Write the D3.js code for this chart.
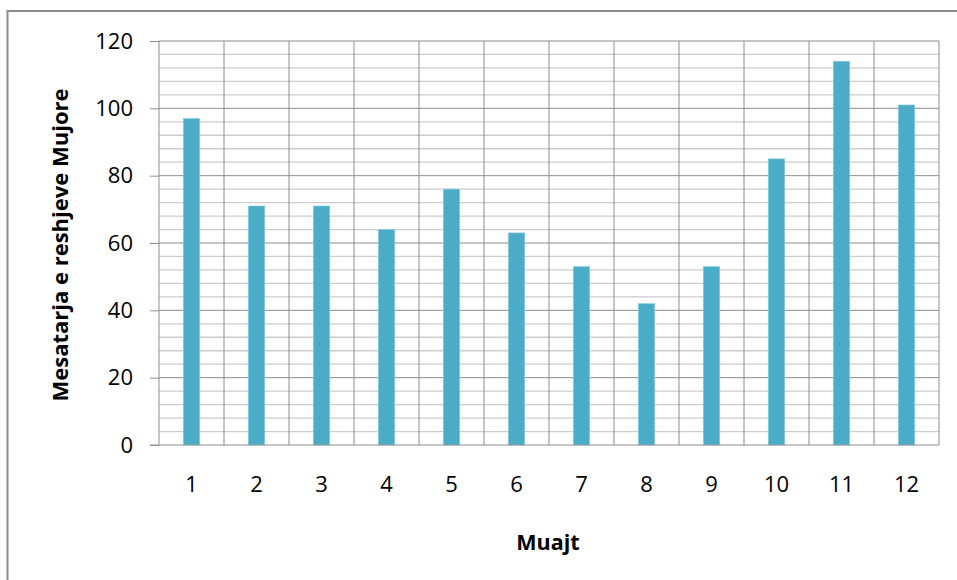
<!DOCTYPE html>
<html>
<head>
<meta charset="utf-8">
<script src="https://cdn.jsdelivr.net/npm/d3@7"></script>
<style>
  html, body { margin: 0; padding: 0; background: #fff; }
  svg { display: block; }
  text { font-family: "Open Sans", "Noto Sans", sans-serif; fill: #000; }
</style>
</head>
<body>
<svg id="chart" width="957" height="580"></svg>
<script>
// Monthly average precipitation
const months = ["1", "2", "3", "4", "5", "6", "7", "8", "9", "10", "11", "12"];
const values = [97, 71, 71, 64, 76, 63, 53, 42, 53, 85, 114, 101];
const yTicks = [0, 20, 40, 60, 80, 100, 120];
const yMinorStep = 4;

const svg = d3.select("#chart");
const plot = { left: 159, right: 939, top: 41, bottom: 445 };

// outer frame
svg.append("rect")
  .attr("x", 7.5).attr("y", 11)
  .attr("width", 1000).attr("height", 1000)
  .attr("fill", "none").attr("stroke", "#8c8c8c").attr("stroke-width", 2);

const x = d3.scaleBand().domain(months).range([plot.left, plot.right]).paddingInner(0).paddingOuter(0);
const y = d3.scaleLinear().domain([0, 120]).range([plot.bottom, plot.top]);

// minor horizontal grid
const minor = d3.range(0, 121, yMinorStep).filter(v => v % 20 !== 0);
svg.append("g").selectAll("line").data(minor).join("line")
  .attr("x1", plot.left).attr("x2", plot.right)
  .attr("y1", d => y(d)).attr("y2", d => y(d))
  .attr("stroke", "#cccccc").attr("stroke-width", 1.3);

// vertical category grid
svg.append("g").selectAll("line").data(months.slice(1).map(m => x(m)).concat([plot.right])).join("line")
  .attr("x1", d => d).attr("x2", d => d)
  .attr("y1", plot.top).attr("y2", plot.bottom)
  .attr("stroke", "#8c8c8c").attr("stroke-width", 1);

// major horizontal grid
svg.append("g").selectAll("line").data(yTicks.filter(v => v > 0)).join("line")
  .attr("x1", plot.left).attr("x2", plot.right)
  .attr("y1", d => y(d)).attr("y2", d => y(d))
  .attr("stroke", "#8c8c8c").attr("stroke-width", 1);

// bars
const barW = 16.5;
svg.append("g").selectAll("rect").data(values).join("rect")
  .attr("x", (d, i) => x(months[i]) + x.bandwidth() / 2 - barW / 2)
  .attr("y", d => y(d))
  .attr("width", barW)
  .attr("height", d => y(0) - y(d))
  .attr("fill", "#4aacc6")
  .attr("stroke", "#8fd0e0").attr("stroke-width", 0.6);

// y axis
const yAxis = d3.axisLeft(y).tickValues(yTicks).tickSize(9).tickPadding(17);
const gy = svg.append("g").attr("transform", `translate(${plot.left},0)`).call(yAxis);
gy.select(".domain").attr("stroke", "#8c8c8c").attr("d", `M0,${plot.top}V${plot.bottom}`);
gy.selectAll(".tick line").attr("stroke", "#8c8c8c");
gy.selectAll(".tick text").style("font-size", "22px").attr("fill", "#000");

// x axis
const xAxis = d3.axisBottom(x).tickSize(0).tickPadding(31);
const gx = svg.append("g").attr("transform", `translate(0,${plot.bottom})`).call(xAxis);
gx.select(".domain").attr("stroke", "#8c8c8c").attr("d", `M${plot.left - 9},0H${plot.right}`);
gx.selectAll(".tick text").style("font-size", "22px").attr("fill", "#000");

// axis titles
svg.append("text")
  .attr("transform", `translate(68,245) rotate(-90)`)
  .attr("text-anchor", "middle")
  .style("font-size", "22px").style("font-weight", "bold")
  .text("Mesatarja e reshjeve Mujore");

svg.append("text")
  .attr("x", 548).attr("y", 550)
  .attr("text-anchor", "middle")
  .style("font-size", "21.5px").style("font-weight", "bold")
  .text("Muajt");
</script>
</body>
</html>
